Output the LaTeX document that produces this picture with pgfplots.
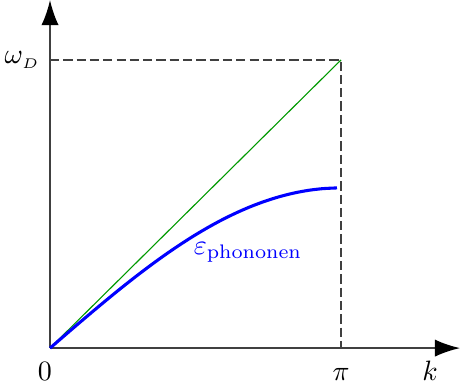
\documentclass[border=0pt]{standalone}
\usepackage{pgfplots}
\pgfplotsset{compat=1.18}
\usetikzlibrary{arrows.meta}

\begin{document}
\begin{tikzpicture}
\begin{axis}[
    scale only axis,
    width=146.4pt, height=124.3pt,
    xmin=0, xmax=4.426,
    ymin=0, ymax=1.208,
    axis lines=middle,
    axis line style={black!75, line width=0.7pt,
        -{Latex[length=9pt,width=6.2pt,black,fill=black]}},
    xtick=\empty, ytick=\empty,
    clip=false,
]
% Debye approximation: linear dispersion up to the cut-off
\addplot[green!60!black, line width=0.4pt] coordinates {(0,0) (3.14159,1)};
% guide lines to omega_D and the zone boundary
\addplot[black!75, line width=0.65pt, dash pattern=on 3.3pt off 1.45pt]
    coordinates {(0,1) (3.14159,1) (3.14159,0)};
% phonon dispersion
\addplot[blue, line width=1.1pt, smooth] coordinates {
    (0,0) (0.1549,0.0430) (0.3098,0.0858) (0.4647,0.1280) (0.6196,0.1695)
    (0.7745,0.2100) (0.9294,0.2492) (1.0843,0.2869) (1.2392,0.3229)
    (1.3941,0.3569) (1.5490,0.3889) (1.7039,0.4184) (1.8588,0.4455)
    (2.0137,0.4698) (2.1686,0.4914) (2.3235,0.5100) (2.4784,0.5256)
    (2.6333,0.5381) (2.7882,0.5474) (2.9431,0.5533) (3.0980,0.5559)
};
\node[anchor=east, xshift=-0.2pt] at (axis cs:0,1) {$\omega_{\scriptscriptstyle D}$};
\node[anchor=base, yshift=-11.6pt, xshift=-1.8pt] at (axis cs:0,0) {$0$};
\node[anchor=base, yshift=-11.6pt] at (axis cs:3.14159,0) {$\pi$};
\node[anchor=base, yshift=-11.6pt] at (axis cs:4.102,0) {$k$};
\node[blue] at (axis cs:2.138,0.333) {$\varepsilon_{\mathrm{phononen}}$};
% extent of the figure
\coordinate (figll) at (axis cs:-0.540,-0.1354);
\coordinate (figur) at (axis cs:4.426,1.208);
\end{axis}
\pgfresetboundingbox
\path (figll) rectangle (figur);
\end{tikzpicture}
\end{document}
